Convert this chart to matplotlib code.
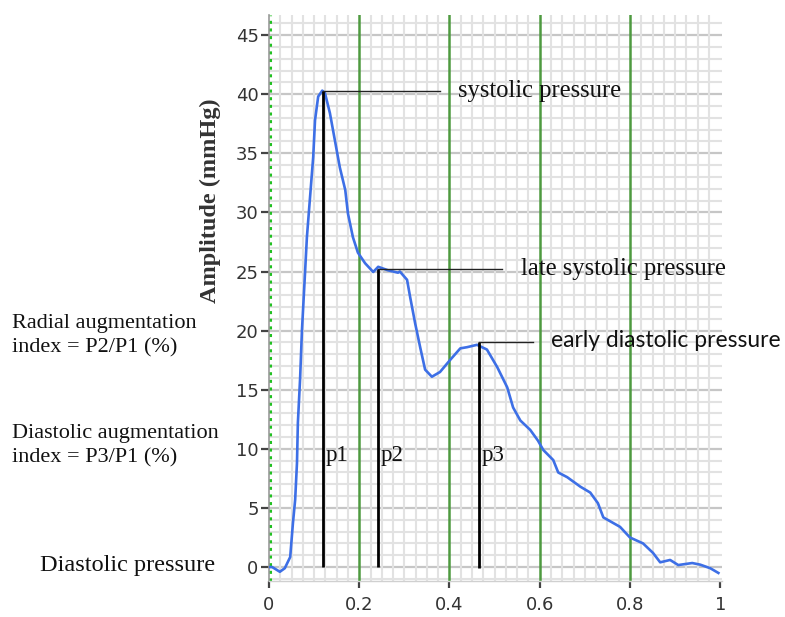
import matplotlib
matplotlib.use("Agg")
import matplotlib.pyplot as plt
import numpy as np
from matplotlib.ticker import MultipleLocator

# Pulse waveform (time fraction, amplitude mmHg)
t = [0.000, 0.007, 0.024, 0.035, 0.047, 0.053, 0.058, 0.062, 0.064, 0.069,
     0.073, 0.080, 0.084, 0.091, 0.098, 0.102, 0.109, 0.118, 0.124, 0.135,
     0.146, 0.157, 0.169, 0.175, 0.186, 0.197, 0.213, 0.231, 0.242, 0.264,
     0.286, 0.290, 0.306, 0.313, 0.324, 0.335, 0.346, 0.361, 0.379, 0.401,
     0.424, 0.439, 0.461, 0.483, 0.506, 0.528, 0.541, 0.557, 0.579, 0.596,
     0.608, 0.630, 0.641, 0.661, 0.690, 0.712, 0.729, 0.741, 0.778, 0.800,
     0.829, 0.851, 0.867, 0.889, 0.907, 0.938, 0.956, 0.978, 0.996]
amp = [0.0, 0.0, -0.4, -0.1, 0.85, 3.7, 5.7, 8.8, 12.2, 16.0,
       20.0, 25.0, 27.9, 31.3, 34.7, 37.8, 39.8, 40.3, 40.1, 38.4,
       36.1, 33.8, 31.9, 29.9, 27.9, 26.6, 25.7, 24.96, 25.4, 25.1,
       24.9, 25.0, 24.3, 22.8, 20.6, 18.6, 16.7, 16.1, 16.5, 17.5,
       18.5, 18.6, 18.8, 18.4, 16.9, 15.2, 13.5, 12.4, 11.6, 10.7,
       9.9, 9.05, 8.0, 7.6, 6.8, 6.3, 5.4, 4.2, 3.4, 2.5,
       2.0, 1.2, 0.4, 0.6, 0.17, 0.34, 0.2, -0.1, -0.5]

# Marked peaks
peak_names = ["p1", "p2", "p3"]
peak_t = [0.120, 0.242, 0.466]
peak_amp = [40.3, 25.2, 19.0]
peak_labels = ["systolic pressure", "late systolic pressure", "early diastolic pressure"]
label_line_end = [0.379, 0.517, 0.585]
label_x = [0.419, 0.558, 0.625]

xticks = [0, 0.2, 0.4, 0.6, 0.8, 1]
xticklabels = ["0", "0.2", "0.4", "0.6", "0.8", "1"]
yticks = [0, 5, 10, 15, 20, 25, 30, 35, 40, 45]

fig = plt.figure(figsize=(7.85, 6.17), dpi=100)
ax = fig.add_axes([269/785, 36/617, 453/785, 566/617])
ax.set_xlim(0, 1.004)
ax.set_ylim(-1.18, 46.7)

# grid
ax.xaxis.set_minor_locator(MultipleLocator(0.025))
ax.yaxis.set_minor_locator(MultipleLocator(1))
ax.grid(which="minor", color="#e2e2e2", lw=1.5, zorder=0)
for yv in yticks:
    ax.axhline(yv, color="#c6c6c6", lw=1.6, zorder=0.5)
for xv in [0.2, 0.4, 0.6, 0.8]:
    ax.axvline(xv, color="#4e9a40", lw=1.8, zorder=0.6)
ax.axvline(0.0015, color="#22c022", lw=2.2, ls=(0, (1, 1.5)), zorder=0.7)
ax.set_axisbelow(True)

for s in ["top", "right"]:
    ax.spines[s].set_visible(False)
ax.spines["left"].set_color("#9a9a9a")
ax.spines["left"].set_linewidth(1.2)
ax.spines["bottom"].set_color("#d0d0d0")
ax.spines["bottom"].set_linewidth(1.0)

ax.set_xticks(xticks)
ax.set_xticklabels(xticklabels)
ax.set_yticks(yticks)
ax.set_yticklabels([str(v) for v in yticks])
ax.tick_params(which="minor", length=0)
ax.tick_params(axis="y", which="major", length=6, width=1.6, color="#444444", pad=1.5,
               labelsize=13, labelcolor="#333333")
ax.tick_params(axis="x", which="major", length=5, width=1.6, color="#444444", pad=6,
               labelsize=13, labelcolor="#333333")

# curve
ax.plot(t, amp, color="#3d6fe6", lw=1.9, zorder=3)

serif = ["Liberation Serif", "DejaVu Serif"]
for i in range(3):
    ax.plot([peak_t[i], peak_t[i]], [0 if i < 2 else -0.1, peak_amp[i]], color="black",
            lw=2.0, zorder=4, solid_capstyle="butt")
    ax.plot([peak_t[i], label_line_end[i]], [peak_amp[i], peak_amp[i]], color="#222222",
            lw=1.0, zorder=4, clip_on=False)
    if i < 2:
        ax.text(label_x[i], peak_amp[i], peak_labels[i], family=serif, fontsize=17.7,
                va="center", ha="left", clip_on=False, color="#111111")
    else:
        ax.text(label_x[i], peak_amp[i] + 0.2, peak_labels[i], family=["Lato", "DejaVu Sans"],
                fontsize=16.5, va="center", ha="left", clip_on=False, color="#111111")
    ax.text(peak_t[i] + 0.006, 9.4, peak_names[i], family=serif, fontsize=16.5,
            va="center", ha="left", color="#111111", zorder=5)

# y label
fig.text(210/785, 1 - 201/617, "Amplitude (mmHg)", rotation=90, family=serif,
         fontweight="bold", fontsize=17.5, va="center", ha="center", color="#333333")

# left annotations
fig.text(12/785, 1 - 336/617, "Radial augmentation\nindex = P2/P1 (%)", family=serif,
         fontsize=16, va="center", ha="left", linespacing=1.4, color="#111111")
fig.text(12/785, 1 - 446/617, "Diastolic augmentation\nindex = P3/P1 (%)", family=serif,
         fontsize=16, va="center", ha="left", linespacing=1.4, color="#111111")
fig.text(40/785, 1 - 565/617, "Diastolic pressure", family=serif,
         fontsize=17.5, va="center", ha="left", color="#111111")

fig.savefig("out.png", dpi=100)
